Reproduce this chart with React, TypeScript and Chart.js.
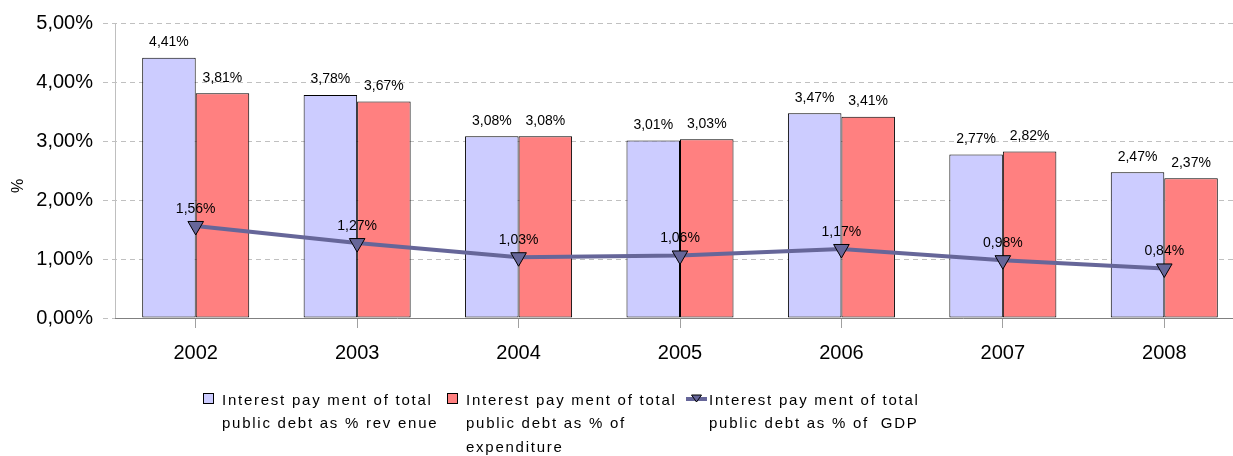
import { useEffect, useRef } from "react";
import { Chart, registerables } from "chart.js";

Chart.register(...registerables);

// Interest payment on total public debt, 2002–2008
const years = ["2002", "2003", "2004", "2005", "2006", "2007", "2008"];
const shareOfRevenue = [4.41, 3.78, 3.08, 3.01, 3.47, 2.77, 2.47];
const shareOfExpenditure = [3.81, 3.67, 3.08, 3.03, 3.41, 2.82, 2.37];
const shareOfGdp = [1.56, 1.27, 1.03, 1.06, 1.17, 0.98, 0.84];
const yTickValues = [0, 1, 2, 3, 4, 5];

const revenueLegend = ["Interest pay ment of total", "public debt as % rev enue"];
const expenditureLegend = ["Interest pay ment of total", "public debt as % of", "expenditure"];
const gdpLegend = ["Interest pay ment of total", "public debt as % of  GDP"];
const yAxisTitle = "%";

const FONT = '"Liberation Sans", Arial, Helvetica, sans-serif';
const REV_COLOR = "#CCCCFF";
const EXP_COLOR = "#FF8080";
const GDP_COLOR = "#666699";
const GRID_COLOR = "#C0C0C0";

const pct = (v: number) => v.toFixed(2).replace(".", ",") + "%";

// dashed horizontal gridlines, extended left of the axis as tick marks
const dashedGrid = {
  id: "dashedGrid",
  beforeDatasetsDraw(chart: any) {
    const ctx = chart.ctx;
    const area = chart.chartArea;
    const y = chart.scales.y;
    ctx.save();
    ctx.strokeStyle = GRID_COLOR;
    ctx.lineWidth = 1;
    ctx.setLineDash([5, 4]);
    yTickValues.forEach((v) => {
      const py = Math.round(y.getPixelForValue(v)) + 0.5;
      ctx.beginPath();
      ctx.moveTo(area.left - 12, py);
      ctx.lineTo(area.right, py);
      ctx.stroke();
    });
    ctx.restore();
  },
};

// value labels above bars and line points
const valueLabels = {
  id: "valueLabels",
  afterDatasetsDraw(chart: any) {
    const ctx = chart.ctx;
    ctx.save();
    ctx.font = `14px ${FONT}`;
    ctx.fillStyle = "#000";
    ctx.textAlign = "center";
    ctx.textBaseline = "middle";
    chart.data.datasets.forEach((ds: any, i: number) => {
      const meta = chart.getDatasetMeta(i);
      meta.data.forEach((el: any, j: number) => {
        const v = ds.data[j] as number;
        const dy = meta.type === "line" ? 17 : 15.5;
        ctx.fillText(pct(v), el.x, el.y - dy);
      });
    });
    ctx.restore();
  },
};

// axis title and wrapped legend below the plot
const legendAndTitle = {
  id: "legendAndTitle",
  afterDraw(chart: any) {
    const ctx = chart.ctx;
    ctx.save();
    ctx.fillStyle = "#000";
    ctx.font = `16px ${FONT}`;
    ctx.textAlign = "center";
    ctx.textBaseline = "middle";
    ctx.translate(19, 186);
    ctx.rotate(-Math.PI / 2);
    ctx.fillText(yAxisTitle, 0, 0);
    ctx.restore();

    const items = [
      { lines: revenueLegend, kind: "box", color: REV_COLOR, mx: 203, tx: 222 },
      { lines: expenditureLegend, kind: "box", color: EXP_COLOR, mx: 447, tx: 466 },
      { lines: gdpLegend, kind: "line", color: GDP_COLOR, mx: 686, tx: 709 },
    ];
    ctx.save();
    ctx.font = `15px ${FONT}`;
    (ctx as any).letterSpacing = "1.75px";
    ctx.textAlign = "left";
    ctx.textBaseline = "alphabetic";
    items.forEach((it) => {
      if (it.kind === "box") {
        ctx.fillStyle = it.color;
        ctx.fillRect(it.mx + 0.5, 393.5, 10, 10);
        ctx.strokeStyle = "#000";
        ctx.lineWidth = 1;
        ctx.strokeRect(it.mx + 0.5, 393.5, 10, 10);
      } else {
        ctx.strokeStyle = it.color;
        ctx.lineWidth = 4;
        ctx.beginPath();
        ctx.moveTo(it.mx, 399);
        ctx.lineTo(it.mx + 21, 399);
        ctx.stroke();
        const cx = it.mx + 10.5;
        ctx.fillStyle = it.color;
        ctx.strokeStyle = "#000";
        ctx.lineWidth = 1;
        ctx.beginPath();
        ctx.moveTo(cx - 5, 395);
        ctx.lineTo(cx + 5, 395);
        ctx.lineTo(cx, 402);
        ctx.closePath();
        ctx.fill();
        ctx.stroke();
      }
      ctx.fillStyle = "#000";
      it.lines.forEach((ln, k) => {
        ctx.fillText(ln, it.tx, 405 + k * 23.3);
      });
    });
    ctx.restore();
  },
};

export default function App() {
  const canvasRef = useRef<HTMLCanvasElement | null>(null);

  useEffect(() => {
    if (!canvasRef.current) return;
    Chart.defaults.font.family = FONT;
    const chart = new Chart(canvasRef.current, {
      type: "bar",
      data: {
        labels: years,
        datasets: [
          {
            type: "line",
            label: gdpLegend.join(" "),
            data: shareOfGdp,
            borderColor: GDP_COLOR,
            borderWidth: 4,
            pointStyle: "triangle",
            rotation: 180,
            pointRadius: 9,
            pointBackgroundColor: GDP_COLOR,
            pointBorderColor: "#000",
            pointBorderWidth: 1,
            tension: 0,
            order: 0,
          } as any,
          {
            type: "bar",
            label: revenueLegend.join(" "),
            data: shareOfRevenue,
            backgroundColor: REV_COLOR,
            borderColor: "#000",
            borderWidth: 1,
            borderSkipped: false,
            barPercentage: 1,
            categoryPercentage: 0.663,
            order: 1,
          },
          {
            type: "bar",
            label: expenditureLegend.join(" "),
            data: shareOfExpenditure,
            backgroundColor: EXP_COLOR,
            borderColor: "#000",
            borderWidth: 1,
            borderSkipped: false,
            barPercentage: 1,
            categoryPercentage: 0.663,
            order: 2,
          },
        ],
      },
      options: {
        responsive: false,
        animation: false,
        devicePixelRatio: 1,
        layout: { padding: { top: 23, right: 15, bottom: 0, left: 0 } },
        plugins: {
          legend: { display: false },
          tooltip: { enabled: false },
          title: { display: false },
        },
        scales: {
          x: {
            afterFit: (s: any) => {
              s.height = 138;
            },
            grid: {
              display: true,
              drawOnChartArea: false,
              drawTicks: true,
              tickLength: 10,
              offset: false,
              color: "#A0A0A0",
            },
            border: { display: true, color: "#808080", width: 1, z: 1 },
            ticks: {
              color: "#000",
              font: { size: 20, family: FONT },
              padding: 13,
              maxRotation: 0,
            },
          },
          y: {
            min: 0,
            max: 5,
            afterFit: (s: any) => {
              s.width = 115;
            },
            afterBuildTicks: (s: any) => {
              s.ticks = yTickValues.map((v) => ({ value: v }));
            },
            grid: {
              display: true,
              drawOnChartArea: false,
              drawTicks: true,
              tickLength: 12,
              tickColor: "rgba(0,0,0,0)",
              color: "rgba(0,0,0,0)",
            },
            border: { display: true, color: "#BFBFBF", width: 1 },
            ticks: {
              color: "#000",
              font: { size: 20, family: FONT },
              padding: 10,
              callback: (v: any) => pct(Number(v)),
            },
          },
        },
      },
      plugins: [dashedGrid, valueLabels, legendAndTitle],
    });
    return () => chart.destroy();
  }, []);

  return (
    <div
      style={{
        position: "fixed",
        left: 0,
        top: 0,
        width: 1233,
        height: 456,
        overflow: "hidden",
        background: "#fff",
      }}
    >
      <canvas
        ref={canvasRef}
        width={1260}
        height={456}
        style={{ width: 1260, height: 456, display: "block" }}
      />
    </div>
  );
}
